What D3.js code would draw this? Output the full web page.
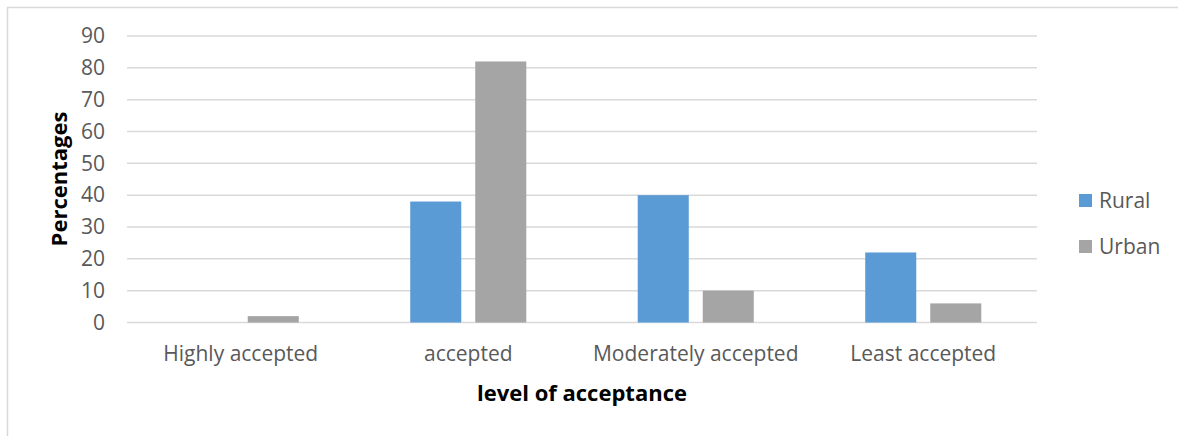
<!DOCTYPE html>
<html>
<head>
<meta charset="utf-8">
<script src="https://cdn.jsdelivr.net/npm/d3@7"></script>
<style>
  html, body { margin: 0; padding: 0; background: #fff; }
  svg { display: block; }
</style>
</head>
<body>
<svg id="chart" width="1178" height="436"></svg>
<script>
// Acceptance level by area (percentages)
const categories = ["Highly accepted", "accepted", "Moderately accepted", "Least accepted"];
const seriesNames = ["Rural", "Urban"];
const rural = [0, 38, 40, 22];
const urban = [2, 82, 10, 6];
const yTicks = [0, 10, 20, 30, 40, 50, 60, 70, 80, 90];
const colors = ["#5B9BD5", "#A5A5A5"];

const rows = categories.map((c, i) => ({ cat: c, values: [rural[i], urban[i]] }));

const svg = d3.select("#chart");
const font = "'Open Sans', 'Noto Sans', sans-serif";
const textColor = "#595959";
const labelSize = 21;
const titleSize = 22;

// Outer chart frame
svg.append("rect")
  .attr("x", 7.5).attr("y", 7.5)
  .attr("width", 1190).attr("height", 440)
  .attr("fill", "#fff").attr("stroke", "#D9D9D9").attr("stroke-width", 1.5);

const plot = { left: 127, right: 1037, top: 36, bottom: 322.5 };

const y = d3.scaleLinear().domain([0, 90]).range([plot.bottom, plot.top]);
const x0 = d3.scaleBand().domain(categories).range([plot.left, plot.right]).padding(0);
const x1 = d3.scaleBand().domain(seriesNames).range([0, x0.bandwidth()])
  .paddingInner(0.215).paddingOuter(0.857);

// Gridlines
svg.append("g")
  .selectAll("line")
  .data(yTicks)
  .join("line")
  .attr("x1", plot.left).attr("x2", plot.right)
  .attr("y1", d => y(d)).attr("y2", d => y(d))
  .attr("stroke", "#D9D9D9").attr("stroke-width", 1.5);

// Y axis labels
const yAxis = d3.axisLeft(y).tickValues(yTicks).tickSize(0).tickPadding(0);
const yg = svg.append("g").attr("transform", `translate(${plot.left - 22},0)`).call(yAxis);
yg.select(".domain").remove();
yg.selectAll("text")
  .attr("font-family", font).attr("font-size", labelSize).attr("fill", textColor);

// Bars
const groups = svg.append("g")
  .selectAll("g")
  .data(rows)
  .join("g")
  .attr("transform", d => `translate(${x0(d.cat)},0)`);

groups.selectAll("rect")
  .data(d => d.values.map((v, i) => ({ key: seriesNames[i], v, i })))
  .join("rect")
  .attr("x", d => x1(d.key))
  .attr("width", x1.bandwidth())
  .attr("y", d => y(d.v))
  .attr("height", d => y(0) - y(d.v))
  .attr("fill", d => colors[d.i]);

// X axis labels
const xAxis = d3.axisBottom(x0).tickSize(0).tickPadding(0);
const xg = svg.append("g").attr("transform", `translate(0,${plot.bottom + 23.5})`).call(xAxis);
xg.select(".domain").remove();
xg.selectAll("text")
  .attr("font-family", font).attr("font-size", labelSize).attr("fill", textColor);

// Axis titles
svg.append("text")
  .attr("x", 582).attr("y", 401)
  .attr("text-anchor", "middle")
  .attr("font-family", font).attr("font-weight", "bold").attr("font-size", titleSize)
  .attr("fill", "#000")
  .text("level of acceptance");

svg.append("text")
  .attr("transform", "translate(67,179) rotate(-90)")
  .attr("text-anchor", "middle")
  .attr("font-family", font).attr("font-weight", "bold").attr("font-size", titleSize)
  .attr("fill", "#000")
  .text("Percentages");

// Legend
const legend = svg.append("g")
  .selectAll("g")
  .data(seriesNames)
  .join("g")
  .attr("transform", (d, i) => `translate(1079,${194 + i * 46})`);

legend.append("rect")
  .attr("width", 13).attr("height", 13)
  .attr("fill", (d, i) => colors[i]);

legend.append("text")
  .attr("x", 20).attr("y", 13.5)
  .attr("font-family", font).attr("font-size", labelSize).attr("fill", textColor)
  .text(d => d);
</script>
</body>
</html>
